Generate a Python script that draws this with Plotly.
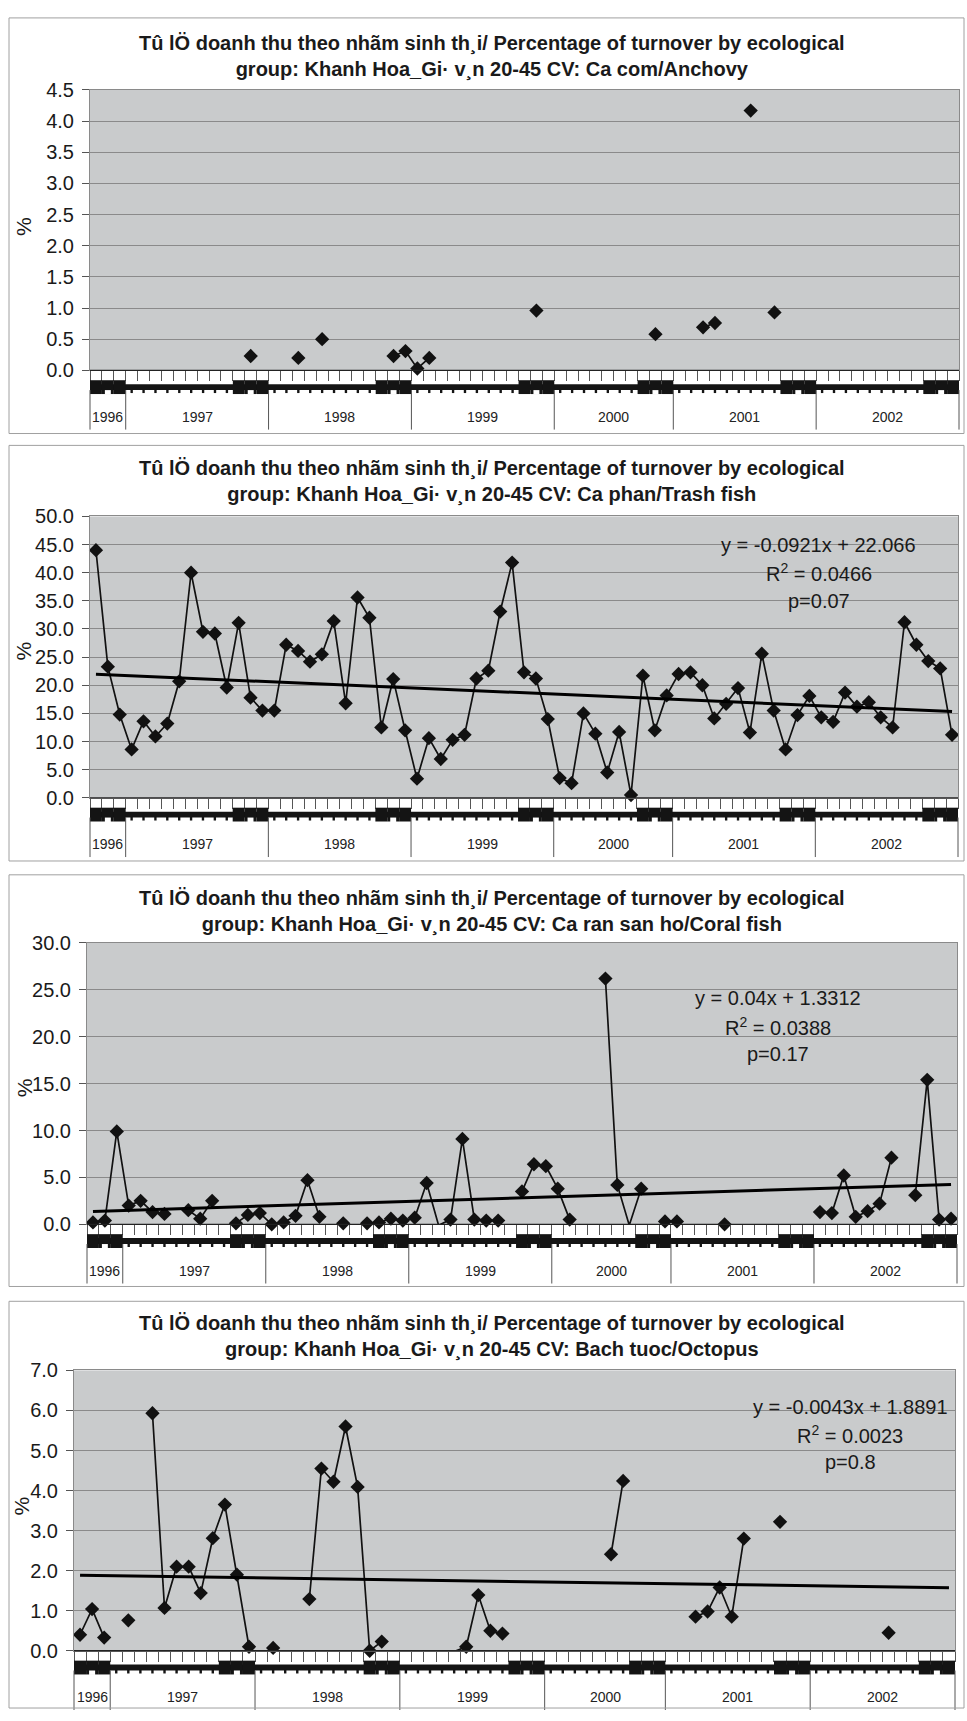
import plotly.graph_objects as go

N = None

# ---------------- categories ----------------
year_labels = ["1996", "1997", "1998", "1999", "2000", "2001", "2002"]
months_per_year = [3, 12, 12, 12, 10, 12, 12]
month_labels = [10, 11, 12,
                1, 2, 3, 4, 5, 6, 7, 8, 9, 10, 11, 12,
                1, 2, 3, 4, 5, 6, 7, 8, 9, 10, 11, 12,
                1, 2, 3, 4, 5, 6, 7, 8, 9, 10, 11, 12,
                1, 2, 3, 4, 5, 6, 7, 10, 11, 12,
                1, 2, 3, 4, 5, 6, 7, 8, 9, 10, 11, 12,
                1, 2, 3, 4, 5, 6, 7, 8, 9, 10, 11, 12]

# ---------------- series (% of turnover) ----------------
anchovy = [N, N, N,
           N, N, N, N, N, N, N, N, N, N, 0.23, N,
           N, N, 0.20, N, 0.50, N, N, N, N, N, 0.23, 0.31,
           0.03, 0.20, N, N, N, N, N, N, N, N, 0.96, N,
           N, N, N, N, N, N, N, N, 0.58, N,
           N, N, 0.69, 0.76, N, N, 4.17, N, 0.93, N, N, N,
           N, N, N, N, N, N, N, N, N, N, N, N]

trash_fish = [44.0, 23.3, 14.8,
              8.6, 13.6, 10.9, 13.2, 20.7, 40.0, 29.5, 29.2, 19.6, 31.1, 17.8, 15.5,
              15.5, 27.2, 26.1, 24.2, 25.5, 31.4, 16.8, 35.6, 32.0, 12.5, 21.1, 12.0,
              3.4, 10.6, 6.9, 10.3, 11.2, 21.2, 22.6, 33.1, 41.8, 22.3, 21.2, 14.0,
              3.5, 2.6, 15.0, 11.4, 4.5, 11.7, 0.5, 21.7, 12.0, 18.2,
              22.0, 22.3, 20.0, 14.1, 16.7, 19.5, 11.6, 25.6, 15.5, 8.6, 14.7, 18.1,
              14.3, 13.5, 18.7, 16.2, 17.0, 14.3, 12.5, 31.2, 27.2, 24.3, 23.0, 11.2]

coral_fish = [0.2, 0.4, 9.9,
              2.0, 2.5, 1.3, 1.1, N, 1.5, 0.6, 2.5, N, 0.1, 1.0, 1.2,
              0.0, 0.2, 0.9, 4.7, 0.8, N, 0.1, N, 0.1, 0.2, 0.6, 0.4,
              0.7, 4.4, -0.1, 0.5, 9.1, 0.5, 0.4, 0.4, N, 3.5, 6.4, 6.2,
              3.8, 0.5, N, N, 26.2, 4.2, -0.1, 3.8, N, 0.3,
              0.3, N, N, N, 0.0, N, N, N, N, N, N, N,
              1.3, 1.2, 5.2, 0.8, 1.4, 2.2, 7.1, N, 3.1, 15.4, 0.5, 0.6]

octopus = [0.40, 1.04, 0.33,
           N, 0.76, N, 5.93, 1.07, 2.10, 2.10, 1.44, 2.81, 3.65, 1.90, 0.10,
           N, 0.07, N, N, 1.29, 4.55, 4.22, 5.60, 4.09, 0.00, 0.23, N,
           -0.02, N, N, N, -0.02, 0.10, 1.39, 0.50, 0.43, N, N, N,
           N, N, N, N, N, 2.41, 4.24, N, N, N,
           N, N, 0.85, 0.98, 1.58, 0.85, 2.80, N, N, 3.22, N, N,
           N, N, N, N, N, N, 0.45, N, N, N, N, N]

# trend lines as printed on the chart: (slope, intercept, R2, p)
trend_trash = (-0.0921, 22.066, "0.0466", "0.07")
trend_coral = (0.04, 1.3312, "0.0388", "0.17")
trend_octopus = (-0.0043, 1.8891, "0.0023", "0.8")

title_head = "Tû lÖ doanh thu theo nhãm sinh th¸i/ Percentage of turnover by ecological"
title_tail = "group: Khanh Hoa_Gi· v¸n 20-45 CV: "
groups = ["Ca com/Anchovy", "Ca phan/Trash fish", "Ca ran san ho/Coral fish", "Bach tuoc/Octopus"]

# ---------------- layout geometry (pixels) ----------------
W, H = 967, 1721
FONT = "Liberation Sans, Arial, Helvetica, sans-serif"

panels = [
    dict(values=anchovy, ymax=4.5, dtick=0.5, trend=None, frame=(7, 428), title_y=46,
         plot=(90, 959, 80, 364), pct=(23, 2.3), eq=None),
    dict(values=trash_fish, ymax=50, dtick=5, trend=trend_trash, frame=(440, 861), title_y=477,
         plot=(90, 958, 512, 797), pct=(24, 26.0), eq=(60.8, 45.0, 28)),
    dict(values=coral_fish, ymax=30, dtick=5, trend=trend_coral, frame=(875, 1292), title_y=912,
         plot=(87, 957, 944, 1229), pct=(24, 14.5), eq=(57.5, 24.1, 28)),
    dict(values=octopus, ymax=7, dtick=1, trend=trend_octopus, frame=(1307, 1719), title_y=1343,
         plot=(74, 955, 1377, 1661), pct=(22, 3.6), eq=(63.8, 6.09, 27.5)),
]


def fx(p):
    return p / W


def fy(p):
    return 1 - p / H


fig = go.Figure()
shapes, annotations = [], []

for k, p in enumerate(panels, start=1):
    s = "" if k == 1 else str(k)
    xr, yr = "x" + s, "y" + s
    xd = xr + " domain"
    vals = p["values"]
    n = len(vals)
    xi = list(range(n))
    x0p, x1p, y0p, y1p = p["plot"]

    def dom(v):
        return (v + 0.5) / n

    def below(px):
        return fy(y1p + px)

    fig.add_trace(go.Scatter(
        x=xi, y=vals, mode="lines+markers", connectgaps=False, cliponaxis=False,
        line=dict(color="#111111", width=1.7),
        marker=dict(symbol="diamond", size=11, color="#111111"),
        xaxis=xr, yaxis=yr, showlegend=False, hoverinfo="skip"))

    if p["trend"]:
        m, b, r2, pv = p["trend"]
        fig.add_trace(go.Scatter(
            x=[0, n - 1], y=[m * 1 + b, m * n + b], mode="lines", cliponaxis=False,
            line=dict(color="#000000", width=3),
            xaxis=xr, yaxis=yr, showlegend=False, hoverinfo="skip"))
        ex, ey, gap = p["eq"]
        sign = "-" if m < 0 else ""
        lines = [f"y = {sign}{abs(m):g}x + {b:g}", f"R<sup>2</sup> = {r2}", f"p={pv}"]
        for j, t in enumerate(lines):
            annotations.append(dict(xref=xr, yref=yr, x=ex, y=ey, yshift=-gap * j,
                                    text=t, showarrow=False, xanchor="center", yanchor="middle",
                                    font=dict(family=FONT, size=20, color="#1a1a1a")))

    fig.layout["xaxis" + s] = dict(
        domain=[fx(x0p), fx(x1p)], anchor=yr, range=[-0.5, n - 0.5],
        tickvals=[i - 0.5 for i in range(n + 1)], ticks="outside", ticklen=10,
        tickcolor="#555555", tickwidth=1, showticklabels=False, showgrid=False,
        zeroline=False, showline=True, linecolor="#8a8a8a", mirror=True, fixedrange=True)
    fig.layout["yaxis" + s] = dict(
        domain=[fy(y1p), fy(y0p)], anchor=xr, range=[0, p["ymax"]], dtick=p["dtick"],
        tickformat=".1f", ticks="outside", ticklen=7, tickcolor="#555555",
        ticklabelstandoff=4,
        showgrid=True, gridcolor="#8a8a8a", gridwidth=1, zeroline=False,
        showline=True, linecolor="#8a8a8a", mirror=True, fixedrange=True,
        tickfont=dict(family=FONT, size=20, color="#1a1a1a"))

    # axis base line
    shapes.append(dict(type="line", xref=xd, yref="paper", x0=0, x1=1, y0=fy(y1p), y1=fy(y1p),
                       line=dict(color="#222222", width=1.3)))

    # squashed month-label band (multi-level category axis)
    shapes.append(dict(type="rect", xref=xd, yref="paper", x0=0, x1=1,
                       y0=below(14), y1=below(20), fillcolor="#141414", line=dict(width=0)))
    for i, mo in enumerate(month_labels):
        if mo >= 10:
            shapes.append(dict(type="rect", xref=xd, yref="paper", x0=dom(i - 0.5), x1=dom(i + 0.5),
                               y0=below(10), y1=below(24), fillcolor="#141414", line=dict(width=0)))
            if mo == 11:
                shapes.append(dict(type="rect", xref=xd, yref="paper", x0=dom(i - 0.25), x1=dom(i + 0.25),
                                   y0=below(20), y1=below(24.5), fillcolor="#ffffff", line=dict(width=0)))
        else:
            shapes.append(dict(type="rect", xref=xd, yref="paper", x0=dom(i - 0.1), x1=dom(i + 0.1),
                               y0=below(19), y1=below(23), fillcolor="#141414", line=dict(width=0)))

    # year group dividers and labels
    start = 0
    bounds = [-0.5]
    for cnt, yl in zip(months_per_year, year_labels):
        annotations.append(dict(xref=xr, yref="paper", x=start + cnt / 2 - 0.5, y=below(47),
                                text=yl, showarrow=False, xanchor="center", yanchor="middle",
                                font=dict(family=FONT, size=14, color="#222222")))
        start += cnt
        bounds.append(start - 0.5)
    for bx in bounds:
        shapes.append(dict(type="line", xref=xd, yref="paper", x0=dom(bx), x1=dom(bx),
                           y0=below(20), y1=below(60), line=dict(color="#555555", width=1)))

    # panel frame
    shapes.append(dict(type="rect", xref="paper", yref="paper", x0=fx(9), x1=fx(964),
                       y0=fy(p["frame"][1]), y1=fy(p["frame"][0]),
                       line=dict(color="#a0a0a0", width=1), fillcolor="rgba(0,0,0,0)"))

    # title
    annotations.append(dict(xref="paper", yref="paper", x=fx(492), y=fy(p["title_y"]),
                            text="<b>" + title_head + "<br>" + title_tail + groups[k - 1] + "</b>",
                            showarrow=False, xanchor="center", yanchor="middle",
                            font=dict(family=FONT, size=20, color="#1a1a1a")))
    # y-axis title
    annotations.append(dict(xref="paper", yref=yr, x=fx(p["pct"][0]), y=p["pct"][1],
                            text="%", textangle=-90, showarrow=False,
                            xanchor="center", yanchor="middle",
                            font=dict(family=FONT, size=21, color="#1a1a1a")))

fig.update_layout(
    width=W, height=H, margin=dict(l=0, r=0, t=0, b=0),
    paper_bgcolor="#ffffff", plot_bgcolor="#c9cbcc",
    shapes=shapes, annotations=annotations, showlegend=False)

fig.write_html("out.html")
